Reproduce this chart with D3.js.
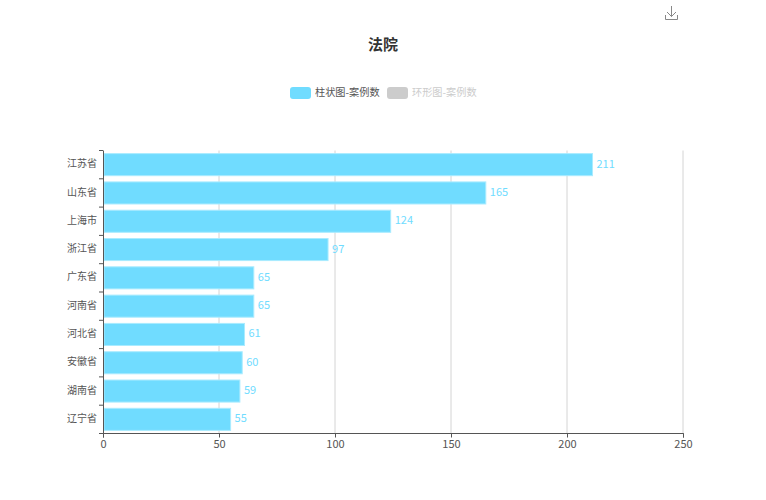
<!DOCTYPE html>
<html>
<head>
<meta charset="utf-8">
<script src="https://cdn.jsdelivr.net/npm/d3@7"></script>
<style>
  html, body { margin: 0; background: #fff; }
  text { font-family: "Noto Sans CJK SC", "Noto Sans", sans-serif; }
</style>
</head>
<body>
<div id="chart"></div>
<script>
const provinces = ["江苏省", "山东省", "上海市", "浙江省", "广东省", "河南省", "河北省", "安徽省", "湖南省", "辽宁省"];
const caseCounts = [211, 165, 124, 97, 65, 65, 61, 60, 59, 55];
const xTicks = [0, 50, 100, 150, 200, 250];
const legendNames = ["柱状图-案例数", "环形图-案例数"];
const legendColors = ["#70dcff", "#cccccc"];

const width = 766, height = 500;
const margin = { top: 150.5, right: 83, bottom: 66.5, left: 103 };
const barColor = "#70dcff";

const svg = d3.select("#chart").append("svg")
  .attr("width", width)
  .attr("height", height)
  .style("display", "block");

const x = d3.scaleLinear().domain([0, 250]).range([margin.left, width - margin.right]);
const y = d3.scaleBand().domain(provinces).range([margin.top, height - margin.bottom]).paddingInner(0.22).paddingOuter(0.11);

// grid lines
svg.append("g").selectAll("line")
  .data(xTicks.slice(1))
  .enter().append("line")
  .attr("x1", d => x(d)).attr("x2", d => x(d))
  .attr("y1", margin.top).attr("y2", height - margin.bottom)
  .attr("stroke", "#d4d4d4");

// bars
svg.append("g").selectAll("rect")
  .data(caseCounts)
  .enter().append("rect")
  .attr("x", x(0) + 1)
  .attr("y", (d, i) => y(provinces[i]))
  .attr("width", d => x(d) - x(0) - 1)
  .attr("height", y.bandwidth())
  .attr("fill", barColor)
  .attr("stroke", "#a9ebff")
  .attr("stroke-width", 1);

// value labels
svg.append("g").selectAll("text")
  .data(caseCounts)
  .enter().append("text")
  .attr("x", d => x(d) + 4)
  .attr("y", (d, i) => y(provinces[i]) + y.bandwidth() / 2 - 1)
  .attr("dy", "0.36em")
  .attr("font-size", 11)
  .attr("fill", barColor)
  .text(d => d);

// y axis
const bandStep = y.step();
const yAxis = svg.append("g");
yAxis.append("line")
  .attr("x1", x(0) + 0.5).attr("x2", x(0) + 0.5)
  .attr("y1", margin.top).attr("y2", height - margin.bottom)
  .attr("stroke", "#555");
yAxis.selectAll(".tick")
  .data(d3.range(provinces.length + 1))
  .enter().append("line")
  .attr("x1", x(0) - 4).attr("x2", x(0))
  .attr("y1", i => margin.top + i * bandStep)
  .attr("y2", i => margin.top + i * bandStep)
  .attr("stroke", "#555");
yAxis.selectAll("text")
  .data(provinces)
  .enter().append("text")
  .attr("x", x(0) - 6)
  .attr("y", d => y(d) + y.bandwidth() / 2 - 1)
  .attr("dy", "0.36em")
  .attr("text-anchor", "end")
  .attr("font-size", 10)
  .attr("fill", "#555")
  .text(d => d);

// x axis
const xAxis = svg.append("g")
  .attr("transform", `translate(0.5,${height - margin.bottom})`)
  .call(d3.axisBottom(x).tickValues(xTicks).tickSize(4).tickPadding(3).offset(0).tickFormat(d3.format("d")));
xAxis.select(".domain").attr("stroke", "#555");
xAxis.selectAll("line").attr("stroke", "#555");
xAxis.selectAll("text")
  .attr("font-size", 11)
  .attr("font-family", '"Noto Sans CJK SC", "Noto Sans", sans-serif')
  .attr("fill", "#555");

// title
svg.append("text")
  .attr("x", 383)
  .attr("y", 50)
  .attr("text-anchor", "middle")
  .attr("font-size", 15)
  .attr("font-weight", "bold")
  .attr("fill", "#333")
  .text("法院");

// legend
const legendX = [290, 387];
const legend = svg.append("g").selectAll("g")
  .data(legendNames)
  .enter().append("g")
  .attr("transform", (d, i) => `translate(${legendX[i]},87)`);
legend.append("rect")
  .attr("width", 21)
  .attr("height", 12)
  .attr("rx", 3)
  .attr("fill", (d, i) => legendColors[i]);
legend.append("text")
  .attr("x", 25)
  .attr("y", 5.5)
  .attr("dy", "0.36em")
  .attr("font-size", 10.2)
  .attr("fill", (d, i) => i === 0 ? "#555" : "#ccc")
  .text(d => d);

// download icon
const icon = svg.append("g")
  .attr("transform", "translate(665,6)")
  .attr("fill", "none")
  .attr("stroke", "#888")
  .attr("stroke-width", 1);
icon.append("path").attr("d", "M0.5 9V13.5H12.5V9");
icon.append("path").attr("d", "M6.5 0V10.5M2 6L6.5 10.5L11 6");
</script>
</body>
</html>
